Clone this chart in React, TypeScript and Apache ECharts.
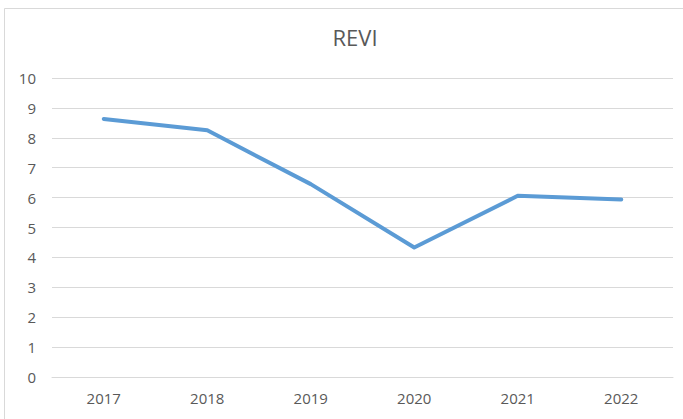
import React, { useEffect, useRef } from "react";
import * as echarts from "echarts";

const categories = ["2017", "2018", "2019", "2020", "2021", "2022"];
const reviValues = [8.63, 8.25, 6.45, 4.33, 6.06, 5.94];
const yTicks = { min: 0, max: 10, interval: 1 };

export default function App() {
  const ref = useRef<HTMLDivElement>(null);
  useEffect(() => {
    if (!ref.current) return;
    const chart = echarts.init(ref.current, null, { renderer: "svg" });
    chart.setOption({
      animation: false,
      backgroundColor: "#ffffff",
      title: {
        text: "REVI",
        left: 350,
        top: 21,
        textAlign: "center",
        textStyle: {
          fontFamily: "Open Sans",
          fontSize: 22,
          fontWeight: "normal",
          color: "#595959",
        },
      },
      graphic: [
        {
          type: "rect",
          shape: { x: 4.5, y: 8.5, width: 720, height: 460 },
          style: { fill: "none", stroke: "#D9D9D9", lineWidth: 1 },
          silent: true,
        },
      ],
      grid: { left: 52, right: 10, top: 78, bottom: 42 },
      xAxis: {
        type: "category",
        data: categories,
        boundaryGap: true,
        axisLine: { show: true, lineStyle: { color: "#D9D9D9", width: 1 } },
        axisTick: { show: false },
        axisLabel: {
          color: "#595959",
          fontFamily: "Open Sans",
          fontSize: 15,
          margin: 13,
        },
      },
      yAxis: {
        type: "value",
        min: yTicks.min,
        max: yTicks.max,
        interval: yTicks.interval,
        axisLine: { show: false },
        axisTick: { show: false },
        splitLine: { lineStyle: { color: "#D9D9D9", width: 1 } },
        axisLabel: {
          color: "#595959",
          fontFamily: "Open Sans",
          fontSize: 15,
          margin: 16,
        },
      },
      series: [
        {
          type: "line",
          data: reviValues,
          symbol: "none",
          lineStyle: { color: "#5B9BD5", width: 4, cap: "round", join: "round" },
        },
      ],
    });
    return () => chart.dispose();
  }, []);
  return (
    <div
      ref={ref}
      style={{ position: "fixed", left: 0, top: 0, width: 683, height: 419 }}
    />
  );
}
